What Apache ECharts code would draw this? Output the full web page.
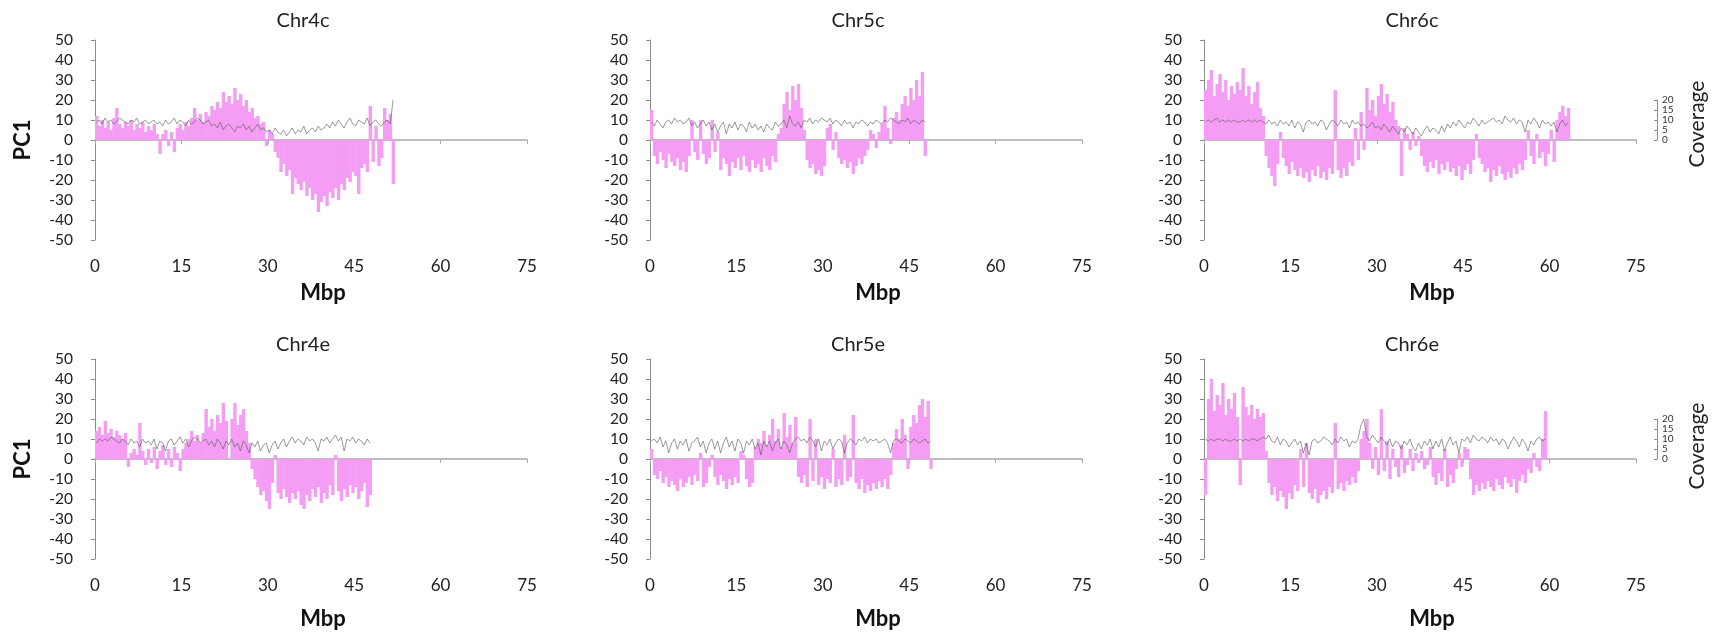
<!DOCTYPE html>
<html>
<head>
<meta charset="utf-8">
<script src="https://cdn.jsdelivr.net/npm/echarts@6/dist/echarts.min.js"></script>
<style>
  html, body { margin: 0; padding: 0; background: #fff; }
  #chart { width: 1713px; height: 634px; }
</style>
</head>
<body>
<div id="chart"></div>
<script>
// bin size (Mbp) of every PC1 / coverage value below
const STEP = 0.5;
const xTicks = [0, 15, 30, 45, 60, 75];
const pcTicks = [-50, 50, 10];      // min, max, interval
const covTicks = [0, 20, 5];

const titles = ['Chr4c', 'Chr5c', 'Chr6c', 'Chr4e', 'Chr5e', 'Chr6e'];

// PC1 values, one per 0.5 Mbp bin
const chr4cPC1 = [12,7,10,6,9,5,11,16,8,6,9,7,10,5,8,6,9,4,7,5,8,3,-7,3,5,-3,4,-6,6,8,5,9,7,11,16,10,13,9,14,12,
  17,15,19,16,24,19,22,18,26,20,23,17,20,14,16,11,12,8,9,-3,5,3,-6,-9,-16,-12,-18,-15,-27,-19,-22,-25,-21,-28,-24,-30,-27,-36,-31,-28,
  -33,-26,-29,-24,-30,-22,-25,-19,-21,-16,-18,-27,-14,-12,-16,17,-11,7,-13,-9,16,10,13,-22];
const chr5cPC1 = [15,-8,-12,-6,-10,-14,-7,-11,-13,-9,-15,-11,-16,-8,10,-6,-10,10,-7,-12,-9,10,-6,4,-15,-9,-12,-18,-11,-14,
  -9,-15,-8,-13,-16,-10,-14,-12,-16,-9,-13,-15,-8,-11,3,6,18,24,15,27,20,28,16,5,-10,-14,-12,-17,-15,-18,
  -13,6,8,-5,4,-9,-12,-10,-14,-11,-17,-13,-9,-12,-8,-5,5,3,-4,4,8,17,6,-2,11,14,10,18,22,17,26,20,30,22,34,-8];
const chr6cPC1 = [25,30,35,22,28,33,24,30,20,27,23,29,25,36,22,27,18,24,29,16,12,-8,-14,-18,-23,-12,4,-9,-13,-17,
  -11,-15,-18,-14,-19,-16,-21,-15,-18,-13,-19,-16,-20,-14,-17,25,-15,-19,-14,-18,-11,-13,6,-10,14,-5,26,15,20,12,
  22,28,18,23,14,19,10,7,-18,6,3,-5,4,-3,2,-8,-13,-16,-11,-14,-10,-17,-12,-15,-11,-16,-14,-18,-13,-20,
  -15,-12,-17,-10,3,-9,-12,-16,-14,-21,-15,-18,-13,-17,-20,-16,-19,-14,-17,-12,-15,-10,5,-8,-12,3,-9,-6,-13,-7,
  5,-11,10,14,17,12,16];
const chr4ePC1 = [14,16,12,19,13,15,11,14,12,10,13,-4,3,5,2,18,4,-3,5,-2,6,-5,4,7,-3,5,-4,6,3,-6,
  5,8,10,14,9,12,8,13,25,16,20,14,22,18,28,19,0,20,28,17,22,25,14,8,-5,-10,-14,-18,-16,-21,
  -25,-12,2,-17,-20,-15,-19,-22,-17,-20,-16,-23,-25,-18,-21,-15,-19,-14,-22,-17,-20,-13,-18,2,-16,-21,-15,-19,-13,-17,
  -14,-20,-16,-12,-24,-18];
const chr5ePC1 = [5,-8,-10,-6,-12,-9,-14,-11,-13,-16,-10,-14,-12,-9,-13,-8,-11,3,-14,-12,-4,2,-9,-13,-8,-11,-15,-10,-13,-9,
  -12,4,2,-10,-14,-12,6,10,8,14,7,12,20,9,15,6,23,11,17,8,21,-9,-12,-8,-14,20,-11,10,-13,-9,
  -15,-10,-12,5,-14,-10,-13,12,-11,-9,22,-12,-15,-10,-17,-13,-16,-12,-15,-11,-14,-10,-15,-8,8,15,10,20,12,-5,
  16,22,18,27,30,21,29,-5];
const chr6ePC1 = [-18,30,40,24,32,27,38,22,30,25,33,21,-13,36,26,22,27,20,25,21,23,4,-12,-18,-14,-21,-16,-19,-25,-17,
  -20,-13,-16,5,-14,8,-17,-20,-15,-22,-18,-16,-20,-14,-17,18,-15,-12,-16,-11,-13,-9,-12,-6,10,14,20,8,-5,6,
  -8,25,-6,9,-10,5,-4,-9,7,-7,-3,5,-6,3,-2,4,-5,-3,6,-9,-13,-7,-11,5,-14,-8,-12,-5,3,-4,
  6,5,-10,-18,-13,-16,-12,-15,-11,-14,-16,-10,-13,-15,-9,-12,-14,-10,-17,-11,-8,-12,-5,-7,3,-4,-6,10,24];

// read coverage, same bins
const chr4cCov = [9,10,8,11,9,10,8,9,11,10,9,8,10,9,11,8,9,10,8,9,
  10,8,9,7,10,8,9,11,8,10,9,7,10,8,9,11,10,8,9,10,
  7,8,6,9,5,7,8,6,4,7,6,8,5,7,4,6,8,5,6,4,
  5,3,6,4,3,5,2,4,6,3,5,4,7,3,5,6,4,7,5,6,
  8,6,9,7,10,8,6,9,11,8,7,10,9,8,11,7,9,10,8,7,9,10,8,20];
const chr5cCov = [9,7,10,8,6,9,10,8,11,9,10,8,9,11,7,9,6,8,10,7,
  9,5,8,4,7,9,3,8,6,9,5,8,7,4,9,6,8,5,7,4,
  8,6,5,9,7,8,10,6,12,8,7,9,6,10,9,11,8,10,9,11,
  10,9,11,8,10,9,7,10,8,9,6,9,8,10,9,7,9,8,10,9,
  8,10,9,11,10,9,8,10,9,11,8,10,9,8,10,9];
const chr6cCov = [9,10,9,10,11,9,10,9,10,9,10,9,9,10,9,10,9,10,9,10,
  9,8,10,8,9,7,10,8,9,7,10,6,9,8,4,9,10,8,9,7,
  10,9,5,8,10,9,7,10,8,9,6,10,8,9,7,8,6,7,9,6,
  7,5,8,6,4,7,5,3,6,4,7,5,3,6,4,2,5,7,4,6,
  5,3,7,4,8,6,9,7,10,8,6,9,8,11,9,7,10,8,9,10,
  11,9,10,8,12,10,9,11,8,10,9,4,10,8,11,9,6,10,8,9,
  7,9,4,8,10,7,9];
const chr4eCov = [8,10,9,10,9,11,10,9,8,10,9,7,10,8,9,6,10,8,9,7,
  10,5,9,8,4,9,10,7,9,11,8,10,6,9,11,10,8,9,10,7,
  9,6,10,8,5,9,7,10,6,8,4,9,7,3,8,6,9,4,7,8,
  3,7,9,5,8,10,6,9,11,8,10,9,7,11,9,10,8,4,10,9,
  11,8,10,12,9,11,4,10,9,11,8,10,9,7,10,8];
const chr5eCov = [9,10,8,11,6,9,3,8,10,5,9,7,10,4,8,9,11,6,9,3,
  8,10,5,9,3,8,11,6,9,4,10,8,3,9,7,10,5,8,2,9,
  6,9,4,8,10,5,9,7,3,8,10,11,9,10,8,11,9,6,10,4,
  9,7,10,5,8,10,9,3,8,10,9,7,10,9,11,8,10,9,10,8,
  9,10,8,3,9,10,9,8,10,9,8,10,9,8,9,10,8,9];
const chr6eCov = [10,9,10,9,10,10,9,10,9,9,10,9,10,9,10,9,10,10,9,10,
  11,10,12,9,8,11,7,10,9,6,8,10,7,9,3,8,2,9,10,8,
  9,11,10,9,7,10,8,11,9,10,6,9,8,10,17,20,11,9,12,10,
  8,11,9,7,10,6,9,8,5,9,7,10,6,4,8,5,9,7,10,5,
  9,6,10,4,8,11,7,9,3,10,9,11,8,12,10,9,11,10,8,11,
  9,10,7,10,9,5,8,11,9,6,10,8,4,9,7,10,11,9,10];

const pcSeries = [chr4cPC1, chr5cPC1, chr6cPC1, chr4ePC1, chr5ePC1, chr6ePC1];
const covSeries = [chr4cCov, chr5cCov, chr6cCov, chr4eCov, chr5eCov, chr6eCov];

// layout
const FONT = 'Lato, "Open Sans", sans-serif';
const colLeft = [95, 650, 1204];
const rowTop = [40, 359];
const plotW = 432;
const plotH = 200;
const PINK = '#f59cf5';

const chart = echarts.init(document.getElementById('chart'));

const grid = [], xAxis = [], yAxis = [], series = [], graphic = [];

// one filled rectangle per bin, from 0 to the PC1 value
function renderBin(params, api) {
  const x = api.value(0), v = api.value(1);
  const a = api.coord([x - STEP / 2, 0]);
  const b = api.coord([x + STEP / 2, v]);
  return {
    type: 'rect',
    shape: { x: a[0], y: Math.min(a[1], b[1]), width: b[0] - a[0] + 0.5, height: Math.abs(b[1] - a[1]) },
    style: { fill: PINK }
  };
}

titles.forEach((name, i) => {
  const col = i % 3, row = Math.floor(i / 3);
  const left = colLeft[col], top = rowTop[row];
  grid.push({ left: left, top: top, width: plotW, height: plotH });

  xAxis.push({
    gridIndex: i, type: 'value',
    min: xTicks[0], max: xTicks[xTicks.length - 1], interval: xTicks[1] - xTicks[0],
    offset: 12,
    axisLine: { lineStyle: { color: '#a8a8a8', width: 1.5 } },
    axisTick: { length: 4, lineStyle: { color: '#a8a8a8' } },
    axisLabel: { fontSize: 17, color: '#222', margin: 6, fontFamily: FONT },
    splitLine: { show: false }
  });
  // PC1 axis
  yAxis.push({
    gridIndex: i, type: 'value',
    min: pcTicks[0], max: pcTicks[1], interval: pcTicks[2],
    offset: 20,
    axisLine: { show: true, lineStyle: { color: '#8c8c8c' } },
    axisTick: { show: true, length: 4, lineStyle: { color: '#8c8c8c' } },
    axisLabel: { fontSize: 15.5, color: '#222', margin: 2, fontFamily: FONT },
    splitLine: { show: false }
  });
  // coverage axis (hidden, same pixel scale as PC1 so 0..20 lines up with the scale bar)
  yAxis.push({
    gridIndex: i, type: 'value', show: false,
    min: pcTicks[0], max: pcTicks[1]
  });

  series.push({
    type: 'custom', name: 'PC1',
    xAxisIndex: i, yAxisIndex: i * 2,
    data: pcSeries[i].map((v, k) => [k * STEP + STEP / 2, v]),
    encode: { x: 0, y: 1 },
    renderItem: renderBin,
    silent: true, animation: false
  });
  series.push({
    type: 'line', name: 'Coverage',
    xAxisIndex: i, yAxisIndex: i * 2 + 1,
    data: covSeries[i].map((v, k) => [k * STEP + STEP / 2, v]),
    symbol: 'none',
    lineStyle: { color: '#606060', width: 0.8, opacity: 0.8 },
    silent: true, animation: false, z: 3
  });

  graphic.push({
    type: 'text', x: left + plotW / 2 - 8, y: row === 0 ? 21 : 345,
    style: { text: name, font: '20px ' + FONT, fill: '#222',
             textAlign: 'center', textVerticalAlign: 'middle', align: 'center', verticalAlign: 'middle' }
  });
  graphic.push({
    type: 'text', x: left + plotW / 2 + 12, y: row === 0 ? 293 : 619,
    style: { text: 'Mbp', font: 'bold 22px ' + FONT, fill: '#111',
             textAlign: 'center', textVerticalAlign: 'middle', align: 'center', verticalAlign: 'middle' }
  });
});

// coverage scale bars beside the right-hand column
rowTop.forEach((top, r) => {
  const gi = grid.length;
  const h = plotH * (covTicks[1] - covTicks[0]) / (pcTicks[1] - pcTicks[0]);
  grid.push({ left: 1657, top: top + plotH * (pcTicks[1] - covTicks[1]) / (pcTicks[1] - pcTicks[0]), width: 1, height: h });
  xAxis.push({ gridIndex: gi, type: 'value', show: false, min: 0, max: 1 });
  yAxis.push({
    gridIndex: gi, type: 'value', position: 'right',
    min: covTicks[0], max: covTicks[1], interval: covTicks[2],
    axisLine: { show: true, lineStyle: { color: '#8c8c8c' } },
    axisTick: { show: true, length: 3, inside: true, lineStyle: { color: '#8c8c8c' } },
    axisLabel: { fontSize: 10, lineHeight: 8, color: '#333', margin: 4, fontFamily: FONT,
                 showMinLabel: true, showMaxLabel: true, hideOverlap: false },
    splitLine: { show: false }
  });

  graphic.push({
    type: 'text', x: 23, y: top + plotH / 2, rotation: Math.PI / 2,
    style: { text: 'PC1', font: 'bold 22px ' + FONT, fill: '#111',
             textAlign: 'center', textVerticalAlign: 'middle', align: 'center', verticalAlign: 'middle' }
  });
  graphic.push({
    type: 'text', x: 1697, y: r === 0 ? 124 : 446, rotation: Math.PI / 2,
    style: { text: 'Coverage', font: '21px ' + FONT, fill: '#222',
             textAlign: 'center', textVerticalAlign: 'middle', align: 'center', verticalAlign: 'middle' }
  });
});

chart.setOption({
  animation: false,
  backgroundColor: '#fff',
  grid: grid,
  xAxis: xAxis,
  yAxis: yAxis,
  series: series,
  graphic: graphic
});
</script>
</body>
</html>
